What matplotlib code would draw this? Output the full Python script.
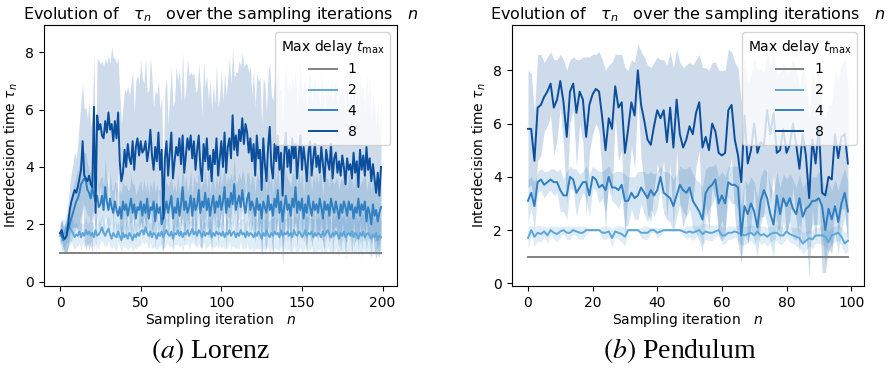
import numpy as np
import matplotlib
matplotlib.use("Agg")
import matplotlib.pyplot as plt

# ---------------- Lorenz (left) ----------------
lor_n = list(range(200))
lor_mean1 = [1.0] * 200
lor_mean2 = [
    1.6, 1.75, 1.65, 1.7, 1.9, 1.85, 1.9, 1.8, 1.7, 1.55, 1.65, 1.6, 1.75, 1.55, 1.7, 1.6, 1.8, 1.65, 1.75, 1.6,
    1.7, 1.55, 1.8, 1.6, 1.65, 1.75, 1.9, 1.7, 1.6, 1.75, 1.85, 1.65, 1.5, 1.7, 1.6, 1.55, 1.75, 1.6, 1.45, 1.7,
    1.55, 1.65, 1.5, 1.7, 1.6, 1.45, 1.65, 1.55, 1.7, 1.6, 1.75, 1.8, 1.65, 1.9, 1.7, 1.6, 1.75, 1.55, 1.7, 1.65,
    1.5, 1.7, 1.6, 1.75, 1.55, 1.7, 1.8, 1.65, 1.6, 1.75, 1.5, 1.7, 1.65, 1.8, 1.6, 1.75, 1.55, 1.7, 1.65, 1.8,
    1.6, 1.7, 1.85, 1.65, 1.75, 1.6, 1.8, 1.7, 1.55, 1.75, 1.6, 1.7, 1.65, 1.8, 1.55, 1.7, 1.6, 1.75, 1.65, 1.7,
    1.6, 1.75, 1.55, 1.7, 1.65, 1.8, 1.6, 1.7, 1.75, 1.55, 1.7, 1.6, 1.8, 1.65, 1.7, 1.55, 1.75, 1.6, 1.7, 1.65,
    1.55, 1.7, 1.6, 1.75, 1.65, 1.5, 1.7, 1.6, 1.8, 1.65, 1.55, 1.7, 1.6, 1.75, 1.65, 1.7, 1.55, 1.8, 1.6, 1.7,
    1.65, 1.75, 1.6, 1.7, 1.55, 1.8, 1.65, 1.6, 1.75, 1.7, 1.55, 1.65, 1.8, 1.6, 1.7, 1.65, 1.75, 1.55, 1.7, 1.6,
    1.7, 1.65, 1.55, 1.75, 1.6, 1.7, 1.8, 1.65, 1.55, 1.7, 1.6, 1.75, 1.65, 1.5, 1.7, 1.6, 1.75, 1.55, 1.65, 1.7,
    1.6, 1.75, 1.55, 1.7, 1.65, 1.5, 1.7, 1.6, 1.75, 1.55, 1.65, 1.7, 1.6, 1.5, 1.65, 1.55, 1.7, 1.45, 1.6, 1.55]
lor_mean4 = [
    1.7, 1.6, 1.45, 1.5, 1.6, 1.8, 2.0, 2.2, 2.4, 2.6, 2.8, 2.9, 3.1, 3.4, 3.5, 3.6, 3.5, 3.2, 3.1, 2.9,
    3.3, 3.0, 2.8, 3.0, 2.6, 2.7, 3.0, 2.5, 3.3, 2.8, 2.5, 2.9, 2.6, 2.4, 2.8, 2.5, 2.3, 2.6, 2.2, 2.8,
    2.5, 2.7, 2.3, 2.6, 2.9, 2.4, 2.7, 2.2, 2.6, 2.5, 2.8, 2.3, 2.7, 2.4, 2.9, 2.2, 2.6, 2.5, 2.8, 2.1,
    2.7, 2.4, 2.6, 2.0, 2.2, 2.5, 2.8, 2.4, 2.7, 3.0, 2.2, 2.6, 2.4, 2.9, 2.3, 2.7, 3.3, 2.5, 2.8, 2.4,
    2.6, 3.0, 2.3, 2.9, 2.5, 2.7, 3.2, 2.4, 2.8, 2.6, 3.1, 2.5, 2.9, 2.3, 2.7, 3.0, 2.4, 2.8, 2.6, 3.0,
    2.5, 2.8, 3.3, 2.4, 2.9, 2.6, 3.1, 2.7, 3.4, 2.5, 2.8, 3.0, 2.6, 3.2, 2.7, 2.4, 2.9, 3.1, 2.5, 2.8,
    2.6, 2.3, 2.9, 2.5, 2.7, 2.2, 2.8, 2.6, 2.4, 3.0, 2.5, 2.7, 2.3, 2.9, 2.6, 3.2, 2.4, 2.8, 2.1, 2.6,
    3.0, 2.5, 2.7, 2.3, 2.9, 2.6, 3.3, 2.4, 2.8, 2.5, 2.9, 2.2, 2.7, 2.4, 3.0, 2.6, 2.3, 2.8, 2.5, 2.7,
    2.4, 2.9, 2.6, 2.2, 2.8, 2.5, 2.7, 2.3, 2.9, 2.6, 2.4, 2.8, 2.5, 2.2, 2.7, 2.4, 2.8, 2.6, 2.3, 2.8,
    2.5, 2.7, 2.2, 2.6, 2.4, 2.9, 2.3, 2.7, 2.5, 2.8, 2.1, 2.6, 2.4, 2.0, 2.7, 2.3, 2.5, 2.1, 2.4, 2.6]
lor_mean8 = [
    1.7, 1.8, 1.55, 1.5, 1.6, 2.0, 2.5, 2.8, 3.0, 3.2, 3.1, 3.3, 3.6, 3.9, 4.9, 3.7, 3.6, 3.5, 3.7, 3.4,
    3.3, 6.1, 2.4, 5.8, 5.3, 5.5, 5.1, 5.0, 5.6, 5.2, 5.9, 5.3, 5.5, 4.9, 5.6, 5.0, 5.9, 4.2, 3.5, 3.8,
    4.6, 4.0, 4.8, 4.3, 4.1, 4.9, 3.9, 4.7, 5.0, 4.4, 4.9, 4.5, 4.6, 4.9, 4.2, 4.6, 5.3, 4.4, 3.9, 4.7,
    4.2, 5.2, 3.9, 4.6, 2.2, 4.3, 4.9, 3.7, 4.5, 5.2, 3.6, 4.2, 4.7, 4.4, 5.0, 4.1, 5.1, 3.8, 4.4, 5.0,
    4.6, 5.1, 4.3, 4.9, 3.9, 4.6, 5.1, 4.0, 3.5, 4.8, 4.2, 5.0, 3.9, 4.4, 3.5, 4.6, 4.1, 5.0, 3.7, 4.3,
    4.9, 4.0, 5.2, 3.8, 4.7, 5.0, 4.3, 5.8, 4.6, 5.1, 4.4, 5.3, 4.9, 5.7, 4.8, 5.5, 5.2, 4.5, 5.0, 4.2,
    4.8, 3.7, 5.1, 4.3, 4.6, 3.2, 5.0, 4.1, 3.5, 4.7, 5.4, 4.0, 3.6, 4.8, 4.2, 5.1, 3.9, 4.5, 3.0, 4.4,
    5.2, 4.0, 4.6, 3.8, 5.0, 4.3, 4.8, 3.6, 4.4, 5.1, 3.9, 4.7, 4.2, 3.5, 4.5, 4.9, 3.7, 4.3, 4.8, 4.0,
    4.4, 3.8, 4.7, 4.1, 3.5, 4.6, 4.2, 3.9, 4.8, 3.6, 4.3, 4.5, 3.8, 4.2, 3.7, 4.4, 4.0, 3.4, 4.3, 3.9,
    4.1, 3.6, 4.5, 3.8, 4.2, 3.3, 4.6, 3.9, 4.4, 3.7, 4.7, 3.9, 4.3, 3.5, 4.1, 3.6, 3.1, 3.8, 3.0, 4.0]
lor_hw2 = [
    0.3, 0.4, 0.5, 0.5, 0.5, 0.5, 0.45, 0.4, 0.5, 0.4, 0.45, 0.35, 0.4, 0.45, 0.35, 0.4, 0.5, 0.35, 0.4, 0.45,
    0.4, 0.35, 0.45, 0.4, 0.5, 0.35, 0.45, 0.4, 0.35, 0.5, 0.4, 0.45, 0.35, 0.4, 0.5, 0.45, 0.35, 0.4, 0.45, 0.4,
    0.35, 0.45, 0.4, 0.5, 0.35, 0.4, 0.45, 0.4, 0.5, 0.35, 0.45, 0.4, 0.35, 0.5, 0.4, 0.45, 0.35, 0.4, 0.5, 0.45,
    0.4, 0.5, 0.35, 0.45, 0.4, 0.5, 0.45, 0.35, 0.4, 0.5, 0.45, 0.4, 0.35, 0.5, 0.4, 0.45, 0.5, 0.4, 0.35, 0.45,
    0.5, 0.4, 0.45, 0.35, 0.5, 0.4, 0.45, 0.5, 0.4, 0.35, 0.45, 0.5, 0.4, 0.45, 0.35, 0.5, 0.4, 0.45, 0.5, 0.4,
    0.45, 0.5, 0.4, 0.55, 0.45, 0.4, 0.5, 0.45, 0.55, 0.4, 0.5, 0.45, 0.4, 0.55, 0.5, 0.45, 0.4, 0.5, 0.55, 0.45,
    0.5, 0.55, 0.45, 0.6, 0.5, 0.65, 0.5, 0.55, 0.6, 0.45, 0.55, 0.5, 0.6, 0.55, 0.5, 0.6, 0.45, 0.55, 0.6, 0.5,
    0.55, 0.6, 0.5, 0.65, 0.55, 0.5, 0.6, 0.55, 0.65, 0.5, 0.6, 0.55, 0.5, 0.65, 0.6, 0.55, 0.5, 0.6, 0.65, 0.55,
    0.6, 0.5, 0.65, 0.55, 0.6, 0.7, 0.55, 0.6, 0.5, 0.65, 0.6, 0.55, 0.7, 0.6, 0.55, 0.65, 0.6, 0.5, 0.65, 0.6,
    0.55, 0.65, 0.6, 0.7, 0.55, 0.6, 0.65, 0.75, 0.6, 0.55, 0.65, 0.6, 0.7, 0.6, 0.65, 0.55, 0.7, 0.6, 0.65, 0.6]
lor_hw4 = [
    0.4, 0.5, 0.4, 0.5, 0.6, 0.6, 0.7, 0.8, 0.8, 0.9, 0.9, 1.0, 1.0, 1.1, 1.0, 0.9, 1.0, 0.9, 0.8, 0.9,
    0.9, 0.8, 1.0, 0.7, 0.8, 0.9, 0.7, 0.8, 1.0, 0.7, 0.8, 0.9, 0.6, 0.8, 0.7, 0.9, 0.8, 0.6, 0.9, 0.7,
    0.8, 0.7, 0.9, 0.6, 0.8, 1.0, 0.7, 0.8, 0.6, 0.9, 0.7, 0.8, 0.9, 0.7, 0.6, 0.8, 0.9, 0.7, 0.8, 1.0,
    0.7, 0.8, 0.6, 0.9, 1.1, 0.8, 0.7, 0.9, 0.8, 0.6, 1.0, 0.8, 0.7, 0.9, 0.8, 0.7, 1.0, 0.8, 0.9, 0.7,
    0.8, 0.9, 0.7, 0.8, 1.0, 0.7, 0.9, 0.8, 0.6, 0.9, 0.8, 0.7, 1.0, 0.8, 0.9, 0.7, 0.8, 0.9, 0.7, 1.0,
    0.8, 0.9, 0.7, 1.0, 0.8, 0.9, 0.7, 0.8, 1.0, 0.9, 0.7, 0.8, 0.9, 0.7, 1.0, 0.8, 0.9, 0.7, 0.8, 0.9,
    1.0, 0.8, 0.9, 1.1, 0.8, 1.2, 0.9, 1.0, 0.8, 1.1, 0.9, 1.0, 0.8, 1.1, 0.9, 1.0, 0.8, 1.1, 0.9, 1.0,
    0.9, 1.1, 0.8, 1.0, 0.9, 1.1, 1.0, 0.8, 1.1, 0.9, 1.0, 0.8, 1.1, 1.0, 0.9, 1.2, 0.8, 1.0, 0.9, 1.1,
    1.0, 0.9, 1.1, 0.8, 1.0, 1.1, 0.9, 1.0, 1.2, 0.9, 1.0, 0.8, 1.1, 1.0, 0.9, 1.1, 1.0, 1.2, 0.9, 1.0,
    1.1, 0.9, 1.0, 1.2, 0.9, 1.1, 1.0, 0.8, 1.1, 1.3, 1.0, 0.9, 1.1, 1.2, 1.0, 0.9, 1.1, 1.2, 1.0, 1.1]
lor_hw8 = [
    0.3, 0.4, 0.4, 0.5, 0.6, 0.8, 0.9, 1.0, 1.1, 1.3, 1.2, 1.5, 2.0, 2.4, 2.0, 2.3, 2.5, 2.2, 2.6, 2.0,
    2.4, 1.9, 1.6, 2.0, 2.4, 2.1, 2.6, 2.5, 2.2, 2.4, 2.0, 2.3, 2.7, 2.9, 2.2, 2.6, 1.9, 2.4, 2.0, 2.3,
    2.1, 2.6, 2.0, 2.2, 2.8, 2.4, 2.0, 2.3, 2.2, 2.5, 2.8, 2.6, 2.3, 2.9, 2.4, 2.1, 2.5, 2.7, 2.2, 2.0,
    2.3, 1.8, 2.1, 1.9, 1.3, 2.4, 2.2, 1.8, 2.0, 2.3, 2.5, 2.1, 2.8, 2.6, 2.4, 2.2, 2.9, 2.5, 2.3, 2.8,
    2.6, 2.2, 2.9, 2.4, 2.7, 2.1, 2.5, 2.8, 2.3, 2.9, 2.6, 2.2, 2.4, 2.7, 2.5, 2.3, 2.1, 2.6, 2.4, 2.2,
    2.5, 2.3, 2.1, 2.7, 2.4, 2.8, 2.6, 2.3, 2.5, 2.2, 2.9, 2.4, 2.6, 2.3, 2.7, 2.1, 2.4, 2.8, 2.5, 2.3,
    2.6, 2.4, 2.2, 2.7, 2.5, 2.3, 2.1, 2.8, 2.4, 2.6, 2.2, 2.5, 2.7, 2.3, 2.6, 2.4, 2.8, 2.2, 2.5, 2.7,
    2.3, 2.6, 2.4, 2.8, 2.2, 2.5, 2.7, 2.4, 2.3, 2.6, 2.5, 2.2, 2.8, 2.4, 2.6, 2.3, 2.5, 2.7, 2.2, 2.4,
    2.6, 2.3, 2.5, 2.8, 2.4, 2.2, 2.6, 2.5, 2.3, 2.7, 2.4, 2.6, 2.2, 2.5, 2.8, 2.3, 2.4, 2.6, 2.5, 2.3,
    2.5, 2.7, 2.3, 2.4, 2.6, 2.2, 2.5, 2.8, 2.4, 2.3, 2.6, 2.5, 2.7, 2.2, 2.4, 2.6, 2.3, 2.5, 2.2, 2.4]

# ---------------- Pendulum (right) ----------------
pen_n = list(range(100))
pen_mean1 = [1.0] * 100
pen_mean2 = [
    1.7, 2.0, 1.75, 1.9, 1.85, 1.95, 1.8, 2.0, 1.9, 1.85, 1.95, 2.0, 1.9, 1.9, 2.0, 1.95, 1.9, 1.9, 2.0, 2.0,
    2.0, 2.0, 2.0, 1.9, 1.9, 1.95, 1.7, 1.95, 1.9, 1.85, 1.75, 2.0, 2.0, 2.0, 2.0, 1.9, 1.9, 1.9, 2.0, 2.0,
    1.9, 1.95, 2.0, 2.0, 2.0, 2.0, 2.0, 2.0, 1.95, 1.9, 1.95, 1.9, 1.95, 2.0, 1.85, 1.95, 1.9, 1.9, 1.95, 2.0,
    1.8, 1.8, 1.9, 1.9, 1.95, 1.9, 1.85, 1.8, 1.85, 1.9, 1.8, 1.95, 1.8, 1.85, 1.75, 1.85, 1.9, 1.9, 1.8, 1.8,
    1.95, 1.85, 1.8, 1.75, 1.7, 1.5, 1.6, 1.7, 1.65, 1.8, 1.8, 1.8, 1.75, 1.55, 1.8, 1.85, 1.9, 1.75, 1.5, 1.6]
pen_mean4 = [
    3.1, 3.4, 2.9, 3.8, 3.9, 3.7, 3.8, 3.9, 3.8, 3.8, 3.5, 3.3, 3.3, 4.0, 3.9, 3.4, 3.6, 3.8, 3.8, 3.3,
    4.0, 3.9, 3.6, 3.7, 3.5, 4.0, 3.6, 3.6, 3.5, 3.7, 3.1, 3.1, 3.4, 3.2, 3.3, 3.6, 3.4, 3.2, 3.5, 3.3,
    3.5, 4.0, 3.4, 3.3, 3.2, 2.9, 3.3, 3.7, 3.5, 3.4, 3.6, 3.1, 2.9, 2.7, 2.4, 3.4, 3.6, 3.7, 3.9, 3.0,
    3.3, 3.0, 3.8, 3.7, 3.7, 3.6, 1.8, 2.9, 2.6, 3.0, 2.7, 2.1, 3.1, 3.5, 3.2, 2.6, 2.2, 3.3, 2.6, 3.2,
    2.9, 3.2, 2.8, 2.6, 3.2, 2.5, 2.8, 2.9, 3.1, 3.1, 3.2, 2.9, 2.0, 2.8, 2.4, 2.9, 2.3, 3.0, 3.4, 2.7]
pen_mean8 = [
    5.8, 5.8, 4.6, 6.6, 6.7, 7.0, 7.2, 7.5, 6.6, 6.9, 7.6, 6.8, 5.5, 7.2, 7.5, 6.4, 7.2, 6.9, 5.5, 6.7,
    7.1, 7.3, 7.2, 6.2, 5.0, 6.2, 5.8, 7.4, 6.6, 6.8, 4.9, 5.8, 6.8, 6.3, 8.0, 6.7, 6.1, 5.4, 5.2, 5.9,
    6.5, 6.2, 6.5, 5.3, 6.6, 5.1, 6.9, 5.6, 5.1, 5.4, 5.9, 5.6, 6.4, 6.8, 5.1, 5.5, 5.0, 6.0, 5.7, 4.9,
    4.8, 4.9, 6.5, 6.7, 5.4, 4.8, 3.8, 6.3, 4.5, 5.0, 6.0, 4.9, 5.3, 5.2, 6.5, 5.6, 6.4, 4.9, 5.0, 5.8,
    4.9, 5.2, 6.0, 5.2, 4.3, 5.6, 4.8, 3.2, 5.4, 4.5, 5.9, 3.4, 3.3, 4.0, 3.9, 5.6, 4.7, 5.5, 5.6, 4.5]
pen_hw2 = [
    0.4, 0.2, 0.35, 0.3, 0.3, 0.2, 0.3, 0.15, 0.25, 0.3, 0.2, 0.15, 0.25, 0.25, 0.15, 0.2, 0.25, 0.25, 0.15, 0.05,
    0.05, 0.05, 0.05, 0.25, 0.25, 0.2, 0.35, 0.2, 0.25, 0.3, 0.35, 0.05, 0.05, 0.05, 0.05, 0.2, 0.25, 0.25, 0.1, 0.1,
    0.2, 0.15, 0.05, 0.05, 0.05, 0.05, 0.05, 0.05, 0.15, 0.25, 0.2, 0.3, 0.2, 0.15, 0.4, 0.3, 0.3, 0.3, 0.2, 0.2,
    0.35, 0.3, 0.25, 0.25, 0.2, 0.3, 0.4, 0.35, 0.3, 0.3, 0.35, 0.25, 0.35, 0.3, 0.35, 0.3, 0.25, 0.3, 0.35, 0.3,
    0.25, 0.3, 0.3, 0.35, 0.35, 0.4, 0.35, 0.3, 0.35, 0.3, 0.3, 0.35, 0.35, 0.4, 0.3, 0.3, 0.3, 0.35, 0.4, 0.4]
pen_hw4 = [
    0.8, 0.6, 0.9, 0.4, 0.4, 0.5, 0.4, 0.4, 0.5, 0.4, 0.8, 0.6, 0.9, 0.4, 0.4, 0.9, 0.5, 0.4, 0.6, 0.8,
    0.4, 0.4, 0.6, 0.5, 0.8, 0.4, 0.5, 0.6, 0.7, 0.5, 1.0, 0.9, 0.6, 0.8, 0.9, 0.6, 0.8, 0.9, 0.7, 0.8,
    0.7, 0.4, 0.8, 0.9, 0.9, 1.0, 0.8, 0.7, 0.8, 0.9, 0.8, 1.0, 1.0, 1.1, 1.2, 0.9, 0.8, 0.7, 0.6, 1.0,
    0.9, 1.0, 0.6, 0.7, 0.7, 0.8, 1.1, 1.0, 1.1, 1.0, 1.1, 1.1, 0.9, 0.8, 1.0, 1.1, 1.2, 0.9, 1.0, 0.9,
    1.0, 0.9, 1.1, 1.0, 0.9, 1.1, 1.0, 1.0, 0.9, 0.9, 1.0, 1.1, 1.3, 1.0, 1.1, 1.0, 1.2, 1.0, 0.9, 1.1]
pen_hw8 = [
    2.2, 2.1, 1.8, 2.0, 1.9, 1.3, 1.3, 1.2, 1.8, 1.5, 1.0, 1.6, 2.5, 1.2, 1.0, 2.0, 1.2, 1.6, 3.0, 1.8,
    1.5, 1.3, 1.5, 2.2, 3.0, 2.0, 2.5, 1.2, 2.0, 1.8, 3.2, 2.2, 1.6, 2.0, 1.0, 2.0, 2.4, 2.8, 2.9, 2.4,
    2.0, 2.2, 1.9, 2.9, 2.1, 3.0, 1.9, 2.7, 3.0, 2.8, 2.4, 2.6, 2.0, 1.8, 3.0, 2.6, 3.0, 2.3, 2.6, 3.1,
    3.2, 3.1, 2.3, 2.0, 2.9, 3.3, 3.0, 2.2, 3.0, 2.8, 2.4, 3.1, 2.8, 2.7, 2.2, 2.6, 2.3, 3.0, 2.9, 2.5,
    3.0, 2.8, 2.4, 2.8, 3.1, 2.5, 2.9, 3.0, 2.6, 2.9, 2.4, 3.0, 2.9, 2.7, 2.8, 2.5, 2.9, 2.7, 2.8, 3.0]

labels = ["1", "2", "4", "8"]
colors = ["#808080", "#5fa6d8", "#2f7fc1", "#0b4f9c"]

fig = plt.figure(figsize=(8.91, 3.68), dpi=100)
ax1 = fig.add_axes([0.0494, 0.2228, 0.3962, 0.7092])
ax2 = fig.add_axes([0.5746, 0.2228, 0.3950, 0.7092])


def draw(ax, n, means, hws, xlim, ylim, xticks):
    n = np.asarray(n)
    for lab, col, m, hw in zip(labels, colors, means, hws):
        m = np.asarray(m)
        ax.plot(n, m, color=col, lw=1.4, label=lab)
        if hw is not None:
            hw = np.asarray(hw)
            ax.fill_between(n, m - hw, m + hw, color=col, alpha=0.2, lw=0)
    ax.set_xlim(*xlim)
    ax.set_ylim(*ylim)
    ax.set_xticks(xticks)
    ax.set_yticks([0, 2, 4, 6, 8])
    ax.tick_params(labelsize=10)
    ax.set_title(r"Evolution of   $\tau_n$   over the sampling iterations   $n$", fontsize=11.5, pad=4)
    ax.set_xlabel(r"Sampling iteration   $n$", fontsize=10, labelpad=1)
    ax.set_ylabel(r"Interdecision time $\tau_n$", fontsize=10, labelpad=4)
    ax.legend(title=r"Max delay $t_{\max}$", loc="upper right", fontsize=10,
              title_fontsize=10, framealpha=0.8)


draw(ax1, lor_n, [lor_mean1, lor_mean2, lor_mean4, lor_mean8],
     [None, lor_hw2, lor_hw4, lor_hw8], (-9.95, 208.95), (-0.15, 8.95), [0, 50, 100, 150, 200])
draw(ax2, pen_n, [pen_mean1, pen_mean2, pen_mean4, pen_mean8],
     [None, pen_hw2, pen_hw4, pen_hw8], (-4.95, 103.95), (-0.1, 9.7), [0, 20, 40, 60, 80, 100])

fig.text(0.236, 0.047, r"$(a)$ Lorenz", fontsize=20, family="Liberation Serif",
         math_fontfamily="stix", ha="center", va="center")
fig.text(0.763, 0.047, r"$(b)$ Pendulum", fontsize=20, family="Liberation Serif",
         math_fontfamily="stix", ha="center", va="center")

fig.savefig("out.png", dpi=100)
